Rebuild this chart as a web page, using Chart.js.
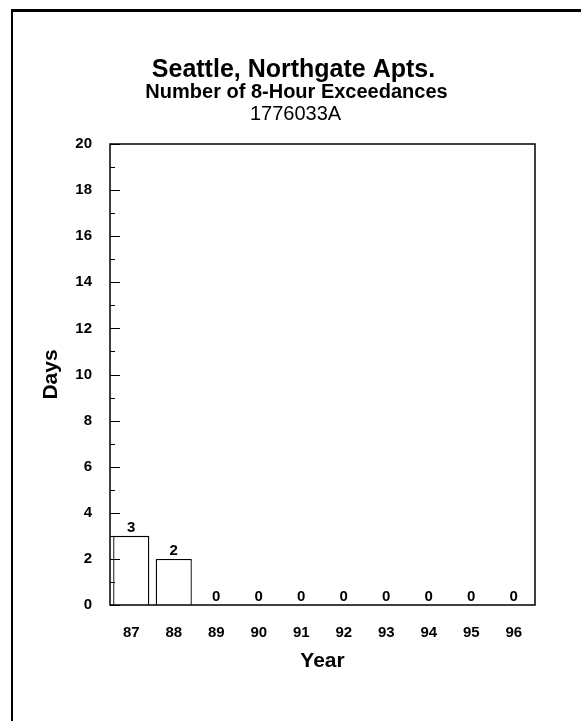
<!DOCTYPE html>
<html>
<head>
<meta charset="utf-8">
<title>Seattle, Northgate Apts.</title>
<script src="https://cdn.jsdelivr.net/npm/chart.js@4.4.0/dist/chart.umd.min.js"></script>
<style>
  html, body { margin: 0; padding: 0; background: #fff; }
  #grafico { display: block; }
</style>
</head>
<body>
<canvas id="grafico" width="581" height="721"></canvas>
<script>
// Dados do gráfico
const anos = ['87', '88', '89', '90', '91', '92', '93', '94', '95', '96'];
const dias = [3, 2, 0, 0, 0, 0, 0, 0, 0, 0];
const titulos = ['Seattle, Northgate Apts.', 'Number of 8-Hour Exceedances', '1776033A'];
const tituloX = 'Year';
const tituloY = 'Days';
const yMin = 0;
const yMax = 20;
const yPasso = 2;

const FONTE = 'Liberation Sans, Arial, Helvetica, sans-serif';

// Moldura externa e títulos (desenhados no canvas)
const pluginMoldura = {
    id: 'moldura',
    beforeDraw(chart) {
        const ctx = chart.ctx;
        ctx.save();
        ctx.fillStyle = '#fff';
        ctx.fillRect(0, 0, chart.width, chart.height);
        ctx.strokeStyle = '#000';
        ctx.lineWidth = 3;
        ctx.beginPath();
        ctx.moveTo(11, 10.5);
        ctx.lineTo(chart.width, 10.5);
        ctx.stroke();
        ctx.lineWidth = 2;
        ctx.beginPath();
        ctx.moveTo(12, 9);
        ctx.lineTo(12, chart.height);
        ctx.stroke();

        // Títulos centralizados na página
        const cx = chart.width / 2;
        ctx.fillStyle = '#000';
        ctx.textAlign = 'center';
        ctx.textBaseline = 'alphabetic';
        ctx.font = 'bold 25px ' + FONTE;
        ctx.fillText(titulos[0], cx + 3, 77);
        ctx.font = 'bold 20px ' + FONTE;
        ctx.fillText(titulos[1], cx + 6, 98);
        ctx.font = '20px ' + FONTE;
        ctx.fillText(titulos[2], cx + 5, 120);
        ctx.restore();
    }
};

// Borda do gráfico, marcas do eixo Y e rótulos das barras
const pluginEixos = {
    id: 'eixos',
    afterDatasetsDraw(chart) {
        const ctx = chart.ctx;
        const area = chart.chartArea;
        const y = chart.scales.y;
        ctx.save();
        ctx.strokeStyle = '#000';
        ctx.lineWidth = 1.5;
        ctx.strokeRect(area.left, area.top, area.right - area.left, area.bottom - area.top);

        // Marcas para dentro: maiores a cada 2, menores nos ímpares
        ctx.lineWidth = 1;
        for (let v = yMin; v <= yMax; v++) {
            const py = Math.round(y.getPixelForValue(v)) + 0.5;
            const tam = (v % yPasso === 0) ? 10 : 5;
            ctx.beginPath();
            ctx.moveTo(area.left, py);
            ctx.lineTo(area.left + tam, py);
            ctx.stroke();
        }

        // Valores acima das barras
        const meta = chart.getDatasetMeta(0);
        ctx.fillStyle = '#000';
        ctx.font = 'bold 15px ' + FONTE;
        ctx.textAlign = 'center';
        ctx.textBaseline = 'alphabetic';
        meta.data.forEach((barra, i) => {
            ctx.fillText(String(dias[i]), barra.x, barra.y - 4);
        });
        ctx.restore();
    }
};

const ctx = document.getElementById('grafico').getContext('2d');
new Chart(ctx, {
    type: 'bar',
    data: {
        labels: anos,
        datasets: [{
            label: tituloY,
            data: dias,
            backgroundColor: '#fff',
            borderColor: '#000',
            borderWidth: 1.3,
            barPercentage: 0.85,
            categoryPercentage: 1.0
        }]
    },
    options: {
        responsive: false,
        animation: false,
        layout: { padding: { left: 0, right: 46, top: 144, bottom: 0 } },
        plugins: {
            legend: { display: false },
            tooltip: { enabled: false },
            title: { display: false }
        },
        scales: {
            x: {
                grid: { display: false, drawTicks: false },
                border: { display: false },
                ticks: { color: '#000', font: { family: FONTE, size: 15, weight: 'bold' }, padding: 19, maxRotation: 0 },
                title: { display: true, text: tituloX, color: '#000', font: { family: FONTE, size: 21, weight: 'bold' }, padding: { top: 0, bottom: 47 } },
                afterFit: (s) => { s.height = 116; }
            },
            y: {
                min: yMin,
                max: yMax,
                grid: { display: false, drawTicks: false },
                border: { display: false },
                ticks: { stepSize: yPasso, color: '#000', font: { family: FONTE, size: 15, weight: 'bold' }, padding: 18 },
                title: { display: true, text: tituloY, color: '#000', font: { family: FONTE, size: 21, weight: 'bold' }, padding: { top: 39, bottom: 0 } },
                afterFit: (s) => { s.width = 110; }
            }
        }
    },
    plugins: [pluginMoldura, pluginEixos]
});
</script>
</body>
</html>
